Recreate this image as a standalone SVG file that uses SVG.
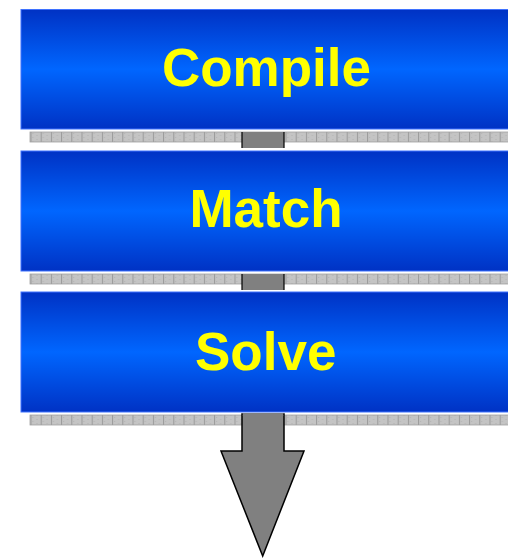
<svg xmlns="http://www.w3.org/2000/svg" width="508" height="558" viewBox="0 0 508 558">
<defs>
<linearGradient id="blue" x1="0" y1="0" x2="0" y2="1">
<stop offset="0" stop-color="#0032c4"/>
<stop offset="0.5" stop-color="#0066ff"/>
<stop offset="1" stop-color="#0032c4"/>
</linearGradient>
<pattern id="grid" patternUnits="userSpaceOnUse" x="30.5" y="0" width="10.2" height="4">
<rect width="10.2" height="4" fill="#c4c4c4"/>
<rect x="2" y="1" width="1" height="1" fill="#b4b4b4"/>
<rect x="6" y="3" width="1" height="1" fill="#b4b4b4"/>
<rect x="0" width="1" height="4" fill="#9a9a9a"/>
</pattern>
<style>
.box{fill:url(#blue);stroke:#3f72ff;stroke-width:1}
.strip{fill:url(#grid);stroke:#a0a0a0;stroke-width:0.8}
.lbl{font-family:"Liberation Sans",Arial,sans-serif;font-weight:bold;font-size:53px;fill:#ffff00;text-anchor:middle}
.conn{fill:#808080;stroke:#000;stroke-width:1.5}
.link{fill:#808080}
.edge{stroke:#000;stroke-width:1.2;fill:none}
</style>
</defs>
<rect x="30" y="132" width="480" height="10" class="strip"/>
<rect x="30" y="274" width="480" height="10" class="strip"/>
<rect x="30" y="415" width="480" height="10" class="strip"/>
<g id="connectors">
<rect x="242" y="132" width="42" height="16" class="link"/>
<path d="M242 132 V148 M284 132 V148" class="edge"/>
<rect x="242" y="274" width="42" height="16" class="link"/>
<path d="M242 274 V290 M284 274 V290" class="edge"/>
<polygon class="conn" points="242,414 284,414 284,451 304,451 262.7,556 221,451 242,451"/>
<rect x="242.8" y="413" width="40.4" height="3" class="link"/>
</g>
<g id="compile">
<rect x="21" y="9.5" width="490" height="119.5" class="box"/>
<text x="266.5" y="86" class="lbl">Compile</text>
</g>
<g id="match">
<rect x="21" y="151" width="490" height="120" class="box"/>
<text x="266" y="227" class="lbl">Match</text>
</g>
<g id="solve">
<rect x="21" y="292" width="490" height="120" class="box"/>
<text x="265.7" y="370" class="lbl">Solve</text>
</g>
</svg>
